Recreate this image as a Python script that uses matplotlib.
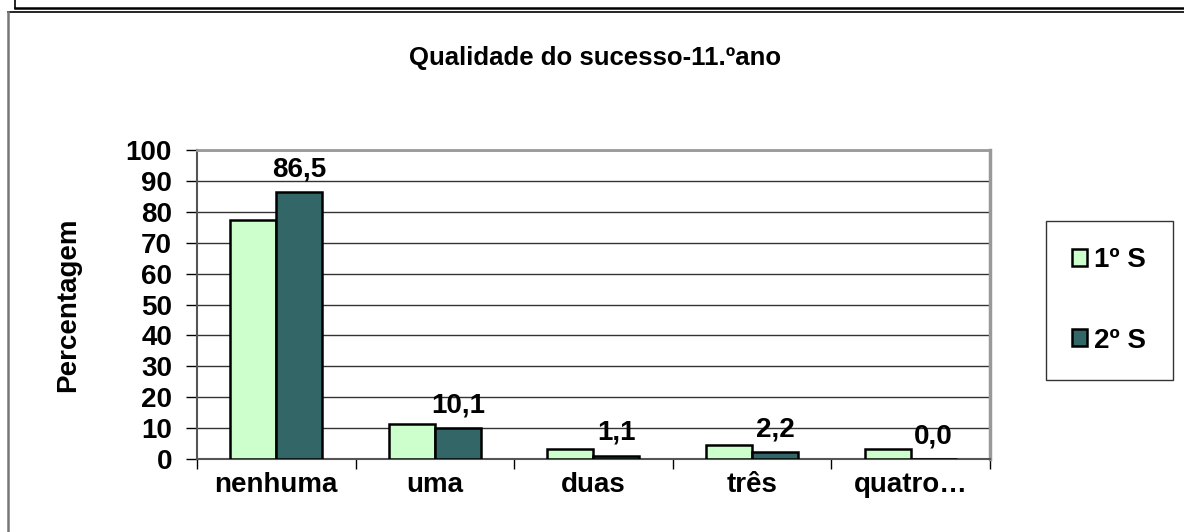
import numpy as np
import matplotlib.pyplot as plt
from matplotlib.lines import Line2D

plt.rcParams['font.family'] = ['Liberation Sans', 'DejaVu Sans']
plt.rcParams['font.weight'] = 'bold'

# Data
categories = ["nenhuma", "uma", "duas", "três", "quatro…"]
sem1 = [77.5, 11.2, 3.4, 4.5, 3.4]
sem2 = [86.5, 10.1, 1.1, 2.2, 0.0]
series_names = ["1º S", "2º S"]
yticks = [0, 10, 20, 30, 40, 50, 60, 70, 80, 90, 100]

fig = plt.figure(figsize=(11.84, 5.32), dpi=100)
ax = fig.add_axes([0.1664, 0.1372, 0.6697, 0.5808])

x = np.arange(len(categories))
w = 0.29
ax.bar(x - w / 2, sem1, w, color="#CCFFCC", edgecolor="black", linewidth=1.8,
       label=series_names[0], zorder=3)
ax.bar(x + w / 2, sem2, w, color="#336666", edgecolor="black", linewidth=1.8,
       label=series_names[1], zorder=3)

# value labels for second series
for xi, v in zip(x, sem2):
    ax.annotate(f"{v:.1f}".replace(".", ","), (xi + w / 2, v), xytext=(0, 7),
                textcoords="offset points", ha="center", va="bottom",
                fontsize=20, fontweight="bold", zorder=4)

ax.set_xlim(-0.5, len(categories) - 0.5)
ax.set_ylim(0, 100)
ax.set_yticks(yticks)
ax.set_yticklabels([str(t) for t in yticks], fontsize=20, fontweight="bold")
ax.set_xticks(x)
ax.set_xticklabels(categories, fontsize=20, fontweight="bold")
ax.tick_params(axis="x", which="major", length=0, pad=9)
ax.set_xticks(np.arange(-0.5, len(categories), 1.0), minor=True)
ax.tick_params(axis="x", which="minor", length=7, width=1, direction="out")
ax.tick_params(axis="y", length=8, width=1, direction="out", pad=10)

ax.yaxis.grid(True, color="#333333", linewidth=1.0, zorder=0)
ax.set_axisbelow(True)
ax.spines["top"].set_color("#999999")
ax.spines["top"].set_linewidth(2)
ax.spines["right"].set_color("#999999")
ax.spines["right"].set_linewidth(2.5)
ax.spines["left"].set_color("#555555")
ax.spines["left"].set_linewidth(1.5)
ax.spines["bottom"].set_color("#555555")
ax.spines["bottom"].set_linewidth(1.5)

ax.set_ylabel("Percentagem", fontsize=20, fontweight="bold", labelpad=32)

fig.text(0.5025, 0.891, "Qualidade do sucesso-11.ºano", ha="center", va="center",
         fontsize=18.5, fontweight="bold")

leg = fig.legend(loc="center", bbox_to_anchor=(0.9367, 0.4352), fontsize=20,
                 frameon=True, fancybox=False, edgecolor="black",
                 handlelength=0.55, handleheight=0.55, handletextpad=0.25,
                 labelspacing=1.95, borderpad=0.95, borderaxespad=0)
leg.get_frame().set_linewidth(1.0)
for t in leg.get_texts():
    t.set_fontweight("bold")

# outer frames
W, H = 1184, 532
fig.add_artist(Line2D([15 / W, 1], [1 - 8 / H, 1 - 8 / H], color="black", lw=1.8))
fig.add_artist(Line2D([15 / W, 15 / W], [1, 1 - 8 / H], color="black", lw=1.2))
fig.add_artist(Line2D([8 / W, 1], [1 - 12 / H, 1 - 12 / H], color="black", lw=1.2))
fig.add_artist(Line2D([8 / W, 8 / W], [1 - 12 / H, 0], color="#777777", lw=1.8))

fig.savefig("out.png", dpi=100)
